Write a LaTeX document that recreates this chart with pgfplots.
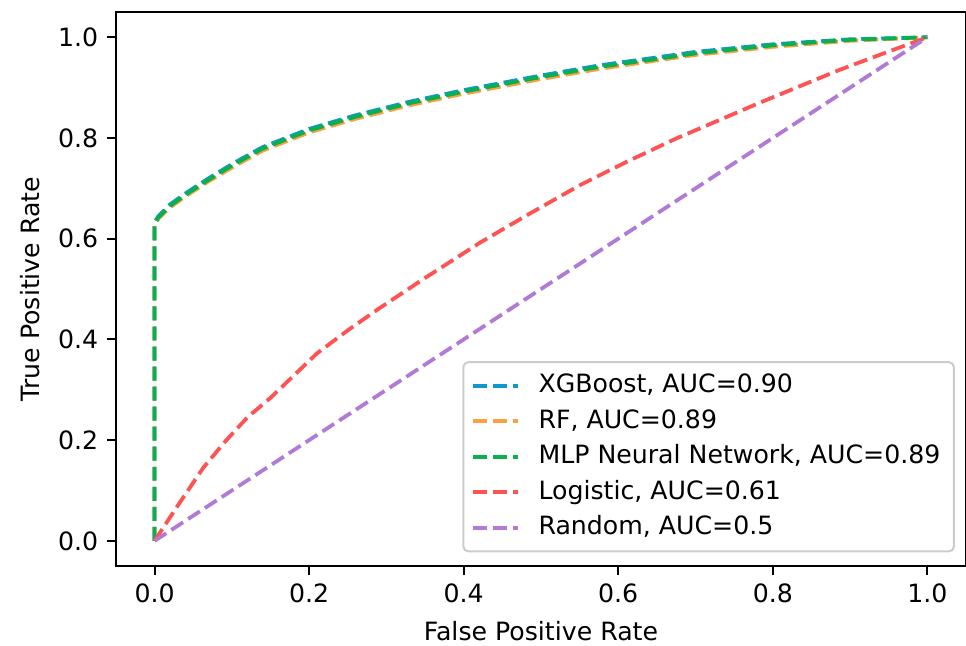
\documentclass[border=0pt]{standalone}
\usepackage{fontspec}
\setmainfont{DejaVu Sans}
\usepackage{pgfplots}
\pgfplotsset{compat=1.18}
\definecolor{cxgb}{RGB}{16,152,206}
\definecolor{crf}{RGB}{255,160,64}
\definecolor{cmlp}{RGB}{10,176,78}
\definecolor{clog}{RGB}{255,82,82}
\definecolor{crnd}{RGB}{176,122,214}
\begin{document}
\begin{tikzpicture}
\begin{axis}[
  name=ax,
  scale only axis,
  width=337.3pt, height=219.8pt,
  xmin=-0.05, xmax=1.05, ymin=-0.05, ymax=1.05,
  xtick={0,0.2,0.4,0.6,0.8,1},
  ytick={0,0.2,0.4,0.6,0.8,1},
  xtick pos=bottom, ytick pos=left,
  tick align=outside,
  major tick length=3.5pt,
  tick style={black, line width=0.8pt},
  axis line style={black, line width=0.8pt},
  /pgf/number format/assume math mode=true,
  tick label style={font=\fontsize{10}{12}\selectfont, /pgf/number format/.cd, fixed, fixed zerofill, precision=1},
  xlabel={False Positive Rate},
  ylabel={True Positive Rate},
  label style={font=\fontsize{10}{12}\selectfont},
  x label style={at={(axis description cs:0.5,-0.118)}, anchor=center},
  y label style={at={(axis description cs:-0.1008,0.5)}, anchor=center},
  legend cell align=left,
  legend image code/.code={\draw[#1, line width=1.5pt] (0pt,0pt) -- (18pt,0pt);},
  legend style={at={(0.987,0.0245)}, anchor=south east, draw=black!20, rounded corners=2pt, fill=white, line width=0.8pt, font=\fontsize{10}{12}\selectfont, inner xsep=3pt, inner ysep=2.3pt, column sep=5pt, nodes={text height=7.4pt, text depth=2pt, inner sep=2.35pt}},
  every axis plot/.append style={line width=1.5pt, dash pattern=on 5.55pt off 2.4pt},
]
\addplot[cxgb] coordinates {(0,0) (0,0.632) (0.005,0.645) (0.02,0.668) (0.04,0.69) (0.07,0.72) (0.1,0.748) (0.14,0.782) (0.2,0.818) (0.26,0.845) (0.33,0.872) (0.4,0.895) (0.5,0.924) (0.575,0.944) (0.65,0.96) (0.7,0.971) (0.8,0.986) (0.9,0.996) (1,1)};
\addlegendentry{XGBoost, AUC=0.90}
\addplot[crf] coordinates {(0,0) (0,0.628) (0.005,0.64) (0.02,0.662) (0.04,0.684) (0.07,0.714) (0.1,0.741) (0.14,0.775) (0.2,0.811) (0.26,0.838) (0.33,0.865) (0.4,0.888) (0.5,0.917) (0.575,0.937) (0.65,0.954) (0.7,0.965) (0.8,0.981) (0.9,0.993) (1,1)};
\addlegendentry{RF, AUC=0.89}
\addplot[cmlp] coordinates {(0,0) (0,0.630) (0.005,0.642) (0.02,0.665) (0.04,0.687) (0.07,0.717) (0.1,0.745) (0.14,0.779) (0.2,0.815) (0.26,0.842) (0.33,0.869) (0.4,0.892) (0.5,0.921) (0.575,0.941) (0.65,0.957) (0.7,0.968) (0.8,0.984) (0.9,0.995) (1,1)};
\addlegendentry{MLP Neural Network, AUC=0.89}
\addplot[clog] coordinates {(0,0) (0.03,0.07) (0.063,0.145) (0.09,0.195) (0.12,0.245) (0.15,0.284) (0.21,0.372) (0.25,0.418) (0.292,0.463) (0.35,0.522) (0.421,0.592) (0.48,0.645) (0.55,0.706) (0.61,0.752) (0.675,0.799) (0.73,0.835) (0.78,0.868) (0.84,0.906) (0.886,0.935) (0.94,0.966) (1,1)};
\addlegendentry{Logistic, AUC=0.61}
\addplot[crnd] coordinates {(0,0) (1,1)};
\addlegendentry{Random, AUC=0.5}
\end{axis}
\pgfresetboundingbox
\path ([xshift=-46pt,yshift=-31.7pt]ax.south west) rectangle ([yshift=4.8pt]ax.north east);
\end{tikzpicture}
\end{document}
